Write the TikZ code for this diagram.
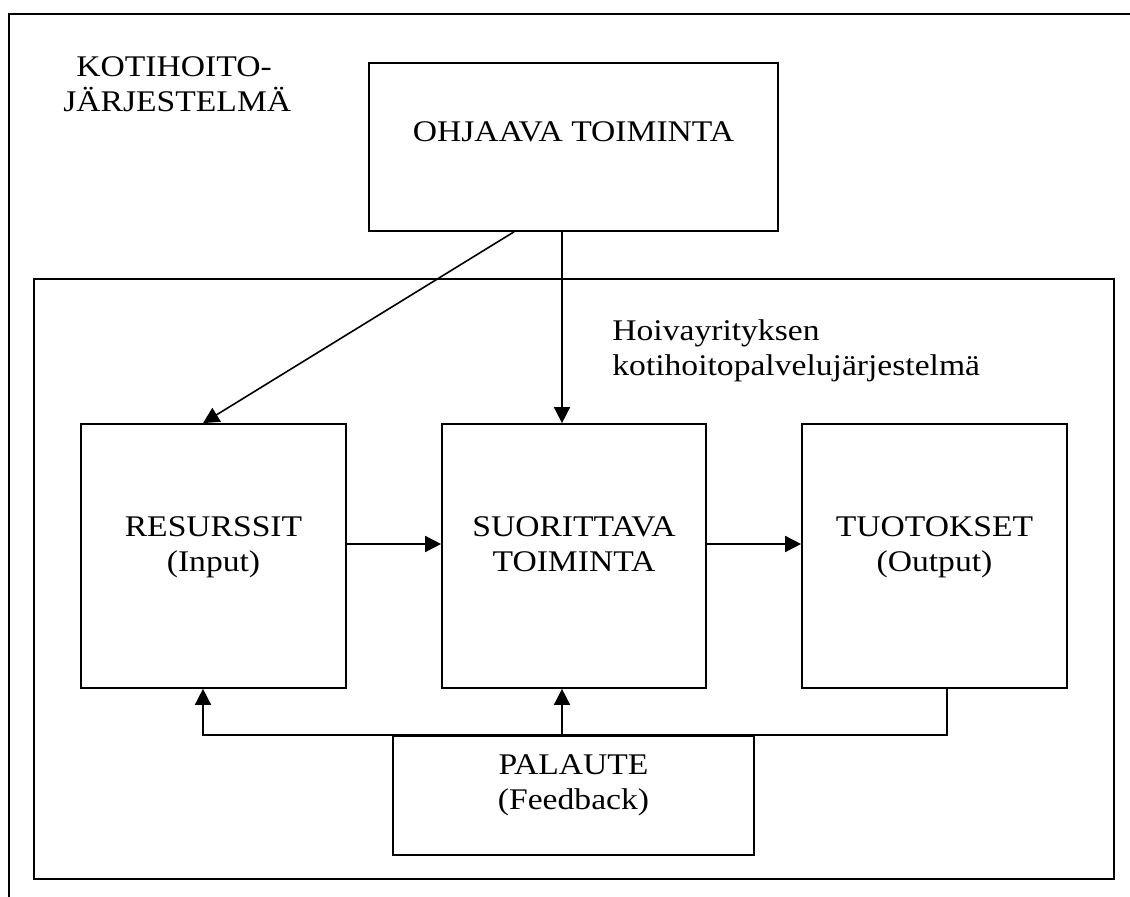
\documentclass[tikz,border=0pt]{standalone}
\usepackage{fontspec}
\setmainfont[FakeStretch=1.12]{Liberation Serif}
\usetikzlibrary{arrows.meta}
\tikzset{
  box/.style={draw, line width=0.85pt, inner sep=0pt, fill=white},
  lbl/.style={inner sep=0pt, anchor=base, font=\fontsize{15}{17.5}\selectfont},
  lblw/.style={lbl, anchor=base west},
  conn/.style={line width=0.8pt},
  arr/.style={conn, -{Triangle[length=8pt,width=8pt]}},
}
\begin{document}
\begin{tikzpicture}[x=0.5pt,y=-0.5pt]
\useasboundingbox (0,0) rectangle (1130,897);
% outer open frame
\draw[line width=1.1pt] (1135,14) -- (9,14) -- (9,902);
\node[lblw] (k1) at (76,77) {KOTIHOITO-};
\node[lblw] (k2) at (63,112) {JÄRJESTELMÄ};
% inner frame
\draw[line width=0.85pt] (34,279) rectangle (1114,879);
\node[lblw] (h1) at (612,341) {Hoivayrityksen};
\node[lblw] (h2) at (612,376) {kotihoitopalvelujärjestelmä};
% boxes
\node[box, minimum width=204.5pt, minimum height=84pt] (ohj) at (573.5,147) {};
\node[lbl] at (573.5,142) {OHJAAVA TOIMINTA};
\node[box, minimum width=132.5pt, minimum height=132pt] (res) at (213.5,556) {};
\node[lbl] at (213.5,537) {RESURSSIT};
\node[lbl] at (213.5,572) {(Input)};
\node[box, minimum width=132pt, minimum height=132pt] (suo) at (574,556) {};
\node[lbl] at (574,537) {SUORITTAVA};
\node[lbl] at (574,572) {TOIMINTA};
\node[box, minimum width=132.5pt, minimum height=132pt] (tuo) at (934.5,556) {};
\node[lbl] at (934.5,537) {TUOTOKSET};
\node[lbl] at (934.5,572) {(Output)};
\node[box, minimum width=180.5pt, minimum height=59.5pt] (pal) at (573.5,795.5) {};
\node[lbl] at (573.5,774) {PALAUTE};
\node[lbl] at (573.5,809) {(Feedback)};
% helper coordinates
\coordinate (dA) at (514,0);
\coordinate (rA) at (203,0);
\coordinate (mid) at (562,0);
\coordinate (hy) at (0,544);
\coordinate (fbx) at (947,0);
% connectors
\draw[arr] (dA |- ohj.south) -- (rA |- res.north);
\draw[arr] (mid |- ohj.south) -- (mid |- suo.north);
\draw[arr] (res.east |- hy) -- (suo.west |- hy);
\draw[arr] (suo.east |- hy) -- (tuo.west |- hy);
\draw[arr] (fbx |- tuo.south) -- (fbx |- pal.north) -- (rA |- pal.north) -- (rA |- res.south);
\draw[arr] (mid |- pal.north) -- (mid |- suo.south);
\end{tikzpicture}
\end{document}
